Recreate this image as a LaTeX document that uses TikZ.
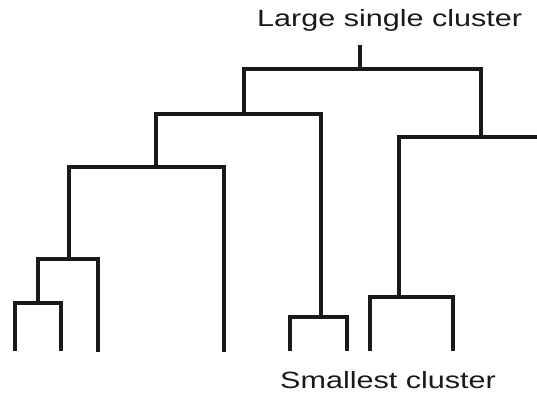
\documentclass[tikz,border=0pt]{standalone}
\usepackage{fontspec}
\setmainfont{Liberation Sans}
\begin{document}
\begin{tikzpicture}[x=1pt,y=-1pt,
  branch/.style={line width=3.6pt, line join=miter, draw=black!90},
  lbl/.style={inner sep=0pt, text=black!90, font=\fontsize{23.5}{26}\selectfont}]
\useasboundingbox (0,0) rectangle (537,394);
% leaves
\coordinate (l1) at (15,351);
\coordinate (l2) at (61,351);
\coordinate (l3) at (98,352);
\coordinate (l4) at (224,352);
\coordinate (l5) at (290,351);
\coordinate (l6) at (347,351);
\coordinate (l7) at (370,351);
\coordinate (l8) at (453,351);
% merges
\coordinate (A) at (38,303);
\coordinate (B) at (69,259);
\coordinate (C) at (156,167);
\coordinate (D) at (321,317);
\coordinate (E) at (244,114);
\coordinate (F) at (399,297);
\coordinate (G) at (481,137);
\coordinate (R) at (537,137);
\coordinate (H) at (360,69);
\coordinate (T) at (360,45);
\draw[branch] (l1) |- (A) -| (l2);
\draw[branch] (A) |- (B) -| (l3);
\draw[branch] (B) |- (C) -| (l4);
\draw[branch] (l5) |- (D) -| (l6);
\draw[branch] (C) |- (E) -| (D);
\draw[branch] (l7) |- (F) -| (l8);
\draw[branch] (F) |- (G) -- (R);
\draw[branch] (E) |- (H) -| (G);
\draw[branch] (H) -- (T);
\node[lbl, anchor=base west] (top) at (257,26) {\scalebox{1.3}[1]{Large single cluster}};
\node[lbl, anchor=base west] (bot) at (280,388) {\scalebox{1.3}[1]{Smallest cluster}};
\end{tikzpicture}
\end{document}
